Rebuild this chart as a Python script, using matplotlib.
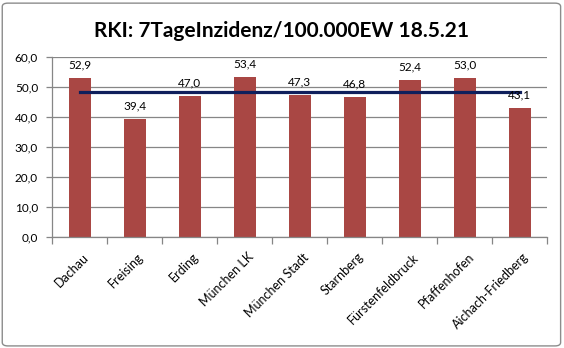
import matplotlib.pyplot as plt
from matplotlib.patches import FancyBboxPatch
from matplotlib.transforms import ScaledTranslation
import numpy as np

# 7-Tage-Inzidenz je Landkreis
kreise = ["Dachau", "Freising", "Erding", "München LK", "München Stadt",
          "Starnberg", "Fürstenfeldbruck", "Pfaffenhofen", "Aichach-Friedberg"]
inzidenz = [52.9, 39.4, 47.0, 53.4, 47.3, 46.8, 52.4, 53.0, 43.1]
mittel = [48.4] * len(kreise)

plt.rcParams['font.family'] = ['Lato', 'DejaVu Sans']

fig = plt.figure(figsize=(5.64, 3.48), dpi=100)
fig.patches.append(FancyBboxPatch((0.004, 0.006), 0.99, 0.985,
                                  boxstyle="round,pad=0,rounding_size=0.01",
                                  transform=fig.transFigure, fill=False,
                                  edgecolor="#8c8c8c", linewidth=1.0))
ax = fig.add_axes([0.0922, 0.319, 0.878, 0.517])

x = np.arange(len(kreise))
ax.bar(x, inzidenz, width=0.4, color="#A94744", zorder=2)
ax.plot(x, mittel, color="#0F1F5C", linewidth=2.3, zorder=3)

for xi, v in zip(x, inzidenz):
    ax.annotate(f"{v:.1f}".replace(".", ","), (xi, v), xytext=(0, 5.5),
                textcoords="offset points", ha="center", va="bottom",
                fontsize=8.5, color="black", zorder=4)

ax.set_xlim(-0.5, len(kreise) - 0.5)
ax.set_ylim(0, 60)
ax.set_yticks(np.arange(0, 61, 10))
ax.set_yticklabels([f"{v:.1f}".replace(".", ",") for v in np.arange(0, 61, 10)],
                   fontsize=8.5)
ax.yaxis.grid(True, color="#868686", linewidth=0.9, zorder=0)
ax.set_axisbelow(True)

# category labels centred under bars, ticks at the category borders
ax.set_xticks(x)
ax.set_xticklabels(kreise, rotation=45, ha="right", rotation_mode="anchor",
                   fontsize=9)
ax.tick_params(axis="x", length=0, pad=10)
shift = ScaledTranslation(3 / 100, 0, fig.dpi_scale_trans)
for lbl in ax.get_xticklabels():
    lbl.set_transform(lbl.get_transform() + shift)
ax.set_xticks(np.arange(-0.5, len(kreise)), minor=True)
ax.tick_params(axis="x", which="minor", length=5, color="#868686", width=0.9)
ax.tick_params(axis="y", length=4, color="#868686", width=0.9, pad=6)

for side in ["top", "right"]:
    ax.spines[side].set_visible(False)
for side in ["left", "bottom"]:
    ax.spines[side].set_color("#868686")
    ax.spines[side].set_linewidth(0.9)

fig.text(0.5, 0.912, "RKI: 7TageInzidenz/100.000EW 18.5.21", ha="center",
         va="center", fontsize=15, fontweight="bold")

fig.savefig("out.png", dpi=100)
